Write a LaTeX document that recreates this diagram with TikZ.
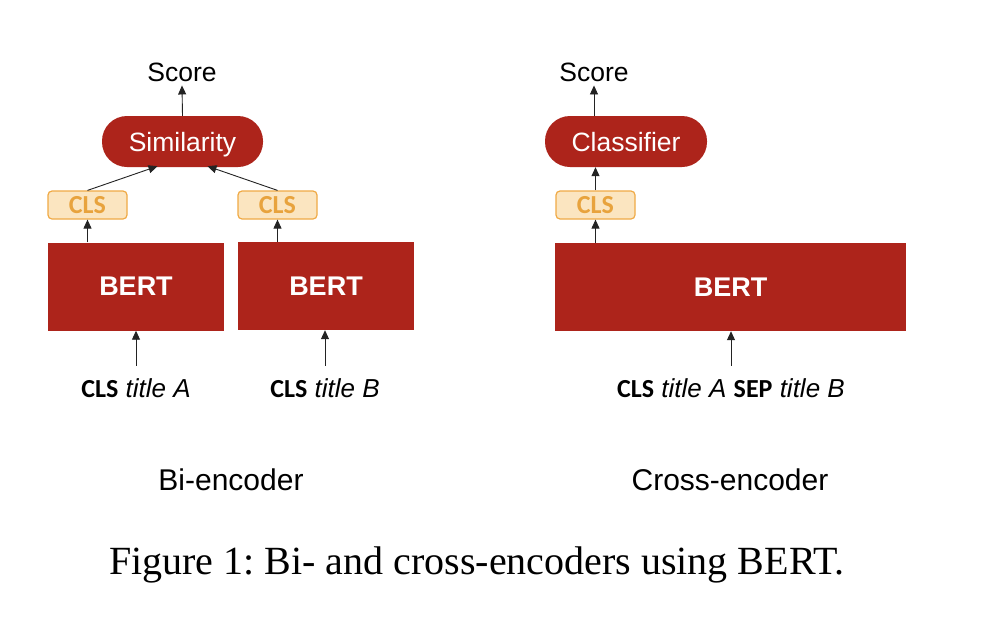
\documentclass[tikz,border=0pt]{standalone}
\usepackage{fontspec}
\setmainfont{Liberation Sans}
\newfontfamily\carl{Carlito}
\newfontfamily\capserif{Liberation Serif}
\usetikzlibrary{arrows.meta,calc}
\definecolor{bertred}{RGB}{173,36,27}
\definecolor{clsfill}{RGB}{251,229,192}
\definecolor{clsedge}{RGB}{240,170,70}
\definecolor{clstext}{RGB}{232,163,61}
\definecolor{arrowgray}{RGB}{35,35,35}
\frenchspacing
\begin{document}
\begin{tikzpicture}[x=1pt,y=-1pt,
  bertbox/.style={fill=bertred, draw=none, inner sep=0pt, text=white, font=\fontsize{27}{30}\selectfont\bfseries, minimum height=88pt},
  clsbox/.style={fill=clsfill, draw=clsedge, line width=1.2pt, rounded corners=4pt, minimum width=79pt, minimum height=28pt, inner sep=0pt, text=clstext, font=\carl\fontsize{26}{30}\selectfont\bfseries},
  pill/.style={fill=bertred, rounded corners=25pt, minimum height=51pt, inner sep=0pt, text depth=0pt, text=white, font=\fontsize{26.5}{30}\selectfont},
  scorelbl/.style={font=\fontsize{26.5}{30}\selectfont, inner sep=4pt, anchor=base},
  inlbl/.style={font=\fontsize{26}{30}\selectfont, inner sep=12pt, anchor=base},
  enclbl/.style={font=\fontsize{30}{36}\selectfont, anchor=base},
  arr/.style={-{Triangle[length=9pt,width=8pt]}, line width=0.9pt, draw=arrowgray}
]
\useasboundingbox[fill=white] (0,0) rectangle (988,616);

% Bi-encoder
\node[bertbox, minimum width=176pt] (bert1) at (136,286.5) {BERT};
\node[bertbox, minimum width=176pt] (bert2) at (326,286) {BERT};
\node[clsbox] (cls1) at (87.5,205) {CLS};
\node[clsbox] (cls2) at (277.5,205) {CLS};
\node[pill, minimum width=161pt] (sim) at (182.5,141.5) {Similarity};
\node[scorelbl] (score1) at (182,81) {Score};
\node[inlbl] (in1) at (136,397) {{\carl\bfseries CLS} \textit{title A}};
\node[inlbl] (in2) at (325,397) {{\carl\bfseries CLS} \textit{title B}};
\node[enclbl] (bi) at (231,490) {Bi-encoder};

\draw[arr] (in1.north) -- (in1.north |- bert1.south);
\draw[arr] (in2.north) -- (in2.north |- bert2.south);
\draw[arr] (bert1.north -| cls1.south) -- (cls1.south);
\draw[arr] (bert2.north -| cls2.south) -- (cls2.south);
\draw[arr] (cls1.north) -- ($(sim.south)+(-25,-1)$);
\draw[arr] (cls2.north) -- ($(sim.south)+(25,-1)$);
\draw[arr] (sim.north) -- (score1.south);

% Cross-encoder
\node[bertbox, minimum width=351pt] (bert3) at (730.5,287) {BERT};
\node[clsbox] (cls3) at (595.5,205) {CLS};
\node[pill, minimum width=162pt] (clf) at (626,141.5) {Classifier};
\node[scorelbl] (score2) at (594,81) {Score};
\node[inlbl] (in3) at (731,397) {{\carl\bfseries CLS} \textit{title A} {\carl\bfseries SEP} \textit{title B}};
\node[enclbl] (cross) at (730,490) {Cross-encoder};

\draw[arr] (in3.north) -- (in3.north |- bert3.south);
\draw[arr] (bert3.north -| cls3.south) -- (cls3.south);
\draw[arr] (cls3.north) -- (cls3.north |- clf.south);
\draw[arr] (clf.north -| score2.south) -- (score2.south);

% Caption
\node[font=\capserif\fontsize{40}{48}\selectfont, anchor=base] (cap) at (477,574) {Figure 1: Bi- and cross-encoders using BERT.};
\end{tikzpicture}
\end{document}
